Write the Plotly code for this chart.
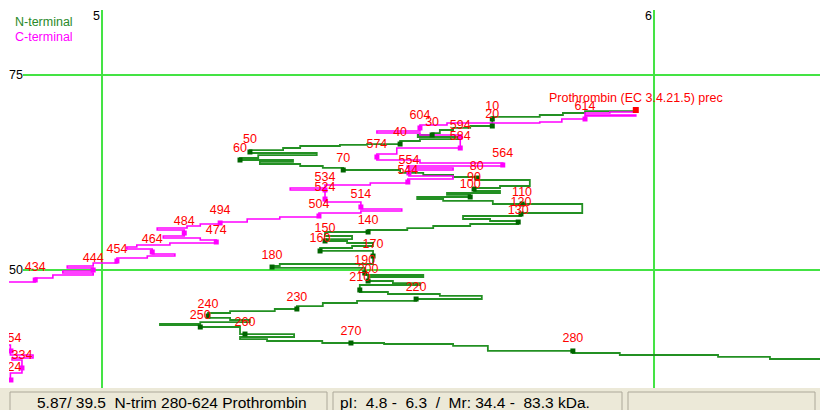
import plotly.graph_objects as go

# ---------------- data (pI, Mr in kDa) ----------------
# N-terminal trimming path (step path, each point = spot after a trimming step)
n_pi = [5.967, 5.875, 5.835, 5.793, 5.707, 5.667, 5.636, 5.612, 5.598, 5.572, 5.649, 5.576, 5.540, 5.480,
        5.431, 5.359, 5.328, 5.268, 5.389, 5.283, 5.250, 5.346, 5.286, 5.359, 5.400, 5.437, 5.540, 5.582,
        5.636, 5.679, 5.775, 5.721, 5.674, 5.721, 5.625, 5.667, 5.571, 5.618, 5.708, 5.870, 5.759, 5.654,
        5.703, 5.754, 5.667, 5.600, 5.553, 5.482, 5.404, 5.453, 5.404, 5.444, 5.491, 5.453, 5.395, 5.491,
        5.322, 5.308, 5.476, 5.582, 5.482, 5.527, 5.576, 5.467, 5.518, 5.612, 5.688, 5.569, 5.462, 5.400,
        5.353, 5.313, 5.232, 5.192, 5.232, 5.268, 5.178, 5.105, 5.178, 5.250, 5.348, 5.250, 5.299, 5.399,
        5.511, 5.636, 5.699, 5.853, 5.938, 6.116, 6.210, 6.320]
n_mr = [70.38, 70.13, 69.87, 69.62, 68.46, 68.21, 67.95, 67.56, 67.31, 67.05, 66.79, 66.54, 66.15, 66.03,
        65.90, 65.64, 65.38, 65.00, 64.74, 64.36, 64.10, 63.85, 63.59, 63.33, 63.08, 62.82, 62.44, 62.18,
        61.92, 61.54, 60.77, 60.51, 60.13, 59.87, 59.62, 59.36, 59.10, 58.85, 58.46, 57.31, 56.92, 56.54,
        56.28, 55.90, 55.64, 55.38, 55.13, 54.87, 54.36, 53.97, 53.72, 53.46, 53.08, 52.82, 52.44, 50.77,
        50.51, 50.26, 49.36, 49.10, 48.59, 48.33, 48.08, 47.18, 46.92, 46.67, 46.28, 46.03, 45.77, 45.38,
        45.00, 44.74, 44.49, 43.85, 43.59, 43.33, 43.08, 42.95, 42.69, 41.79, 41.41, 41.15, 40.90, 40.64,
        40.51, 40.26, 39.62, 39.36, 39.10, 38.85, 38.59, 38.59]

n_lab = [10, 20, 30, 40, 50, 60, 70, 80, 90, 100, 110, 120, 130, 140, 150, 160, 170, 180, 190, 200,
         210, 220, 230, 240, 250, 260, 270, 280]
n_lab_pi = [5.707, 5.707, 5.598, 5.540, 5.268, 5.250, 5.437, 5.679, 5.674, 5.667, 5.761, 5.759, 5.754,
            5.482, 5.404, 5.395, 5.491, 5.308, 5.476, 5.482, 5.467, 5.569, 5.353, 5.192, 5.178, 5.259,
            5.451, 5.853]
n_lab_mr = [69.36, 68.46, 67.31, 66.15, 65.13, 64.10, 62.82, 61.79, 60.38, 59.36, 58.46, 57.18, 56.15,
            54.87, 53.72, 52.44, 51.79, 50.38, 49.62, 48.59, 47.44, 46.28, 45.00, 44.10, 42.69, 41.79,
            40.64, 39.62]

# C-terminal trimming path
c_pi = [5.967, 5.920, 5.875, 5.967, 5.875, 5.833, 5.793, 5.625, 5.576, 5.498, 5.576, 5.649, 5.534, 5.498,
        5.576, 5.726, 5.553, 5.636, 5.556, 5.636, 5.554, 5.486, 5.404, 5.341, 5.404, 5.469, 5.543, 5.469,
        5.393, 5.322, 5.263, 5.214, 5.178, 5.154, 5.100, 5.149, 5.111, 5.178, 5.207, 5.123, 5.063, 5.045,
        5.091, 5.132, 5.082, 5.027, 4.984, 4.937, 4.984, 4.929, 4.984, 4.911, 4.879, 4.750, 4.834, 4.875,
        4.837, 4.855, 4.834, 4.750]
c_mr = [70.26, 70.13, 69.87, 69.74, 69.36, 68.97, 68.85, 68.59, 67.82, 67.56, 67.31, 65.64, 64.87, 64.10,
        63.72, 63.33, 63.08, 62.82, 62.05, 61.67, 61.15, 60.90, 60.51, 60.26, 58.72, 57.82, 57.56, 57.31,
        56.79, 56.54, 56.15, 55.90, 55.64, 55.38, 55.13, 54.36, 54.10, 53.85, 53.46, 53.21, 52.95, 52.69,
        52.05, 51.79, 51.54, 50.90, 50.51, 50.26, 49.87, 49.62, 49.36, 48.97, 48.46, 40.38, 39.10, 38.72,
        38.46, 36.79, 35.77, 35.77]

c_lab = [614, 604, 594, 584, 574, 564, 554, 544, 534, 524, 514, 504, 494, 484, 474, 464, 454, 444, 434,
         354, 334, 324]
c_lab_pi = [5.875, 5.576, 5.649, 5.649, 5.498, 5.726, 5.556, 5.554, 5.404, 5.404, 5.469, 5.393, 5.214,
            5.149, 5.207, 5.091, 5.027, 4.984, 4.879, 4.835, 4.855, 4.835]
c_lab_mr = [69.36, 68.21, 67.05, 65.64, 64.49, 63.46, 62.44, 61.28, 60.26, 59.10, 58.08, 56.92, 56.03,
            54.74, 53.59, 52.31, 51.15, 50.00, 48.72, 39.62, 37.44, 35.90]

# full-length protein spot
full_pi = [5.967]
full_mr = [70.51]
full_name = ["Prothrombin (EC 3.4.21.5) prec"]

# axis marks (grid lines)
grid_pi = [5, 6]
grid_mr = [75, 50]

legend_items = ["N-terminal", "C-terminal"]
status_texts = ["5.87/ 39.5  N-trim 280-624 Prothrombin",
                "pI:  4.8 -  6.3  /  Mr: 34.4 -  83.3 kDa.",
                ""]

# ---------------- style ----------------
W, H = 820, 410
ML, MB = 9, 22
PW, PH = W - ML, H - MB
X_RANGE = [4.8315, 6.3007]
Y_RANGE = [34.872, 84.615]
GREEN = "#239023"
GREEN_DARK = "#006400"
MAGENTA = "#ff00ff"
RED = "#ff0000"
GRID = "#44e344"
FONT = "Arial, Liberation Sans, sans-serif"


def px(xp):
    return (xp - ML) / PW


def py(yp):
    return (PH - yp) / PH


fig = go.Figure()

fig.add_trace(go.Scatter(x=n_pi, y=n_mr, mode="lines",
                         line=dict(color=GREEN, width=1.8, shape="hv")))
fig.add_trace(go.Scatter(x=c_pi, y=c_mr, mode="lines",
                         line=dict(color=MAGENTA, width=1.6, shape="hv")))

fig.add_trace(go.Scatter(x=n_lab_pi, y=n_lab_mr, mode="markers",
                         marker=dict(symbol="square", size=5, color=GREEN_DARK)))
fig.add_trace(go.Scatter(x=c_lab_pi, y=c_lab_mr, mode="markers",
                         marker=dict(symbol="square", size=5, color=MAGENTA)))
fig.add_trace(go.Scatter(x=full_pi, y=full_mr, mode="markers",
                         marker=dict(symbol="square", size=6, color=RED)))

for xs, ys, labs in [(n_lab_pi, n_lab_mr, [str(v) for v in n_lab]),
                     (c_lab_pi, c_lab_mr, [str(v) for v in c_lab]),
                     (full_pi, full_mr, full_name)]:
    fig.add_trace(go.Scatter(x=xs, y=ys, mode="markers+text", text=labs,
                             textposition="top center", cliponaxis=True,
                             marker=dict(size=7, color="rgba(0,0,0,0)"),
                             textfont=dict(color=RED, size=12.5, family=FONT)))

shapes = []
annotations = []
for v in grid_pi:
    shapes.append(dict(type="line", xref="x", yref="paper", x0=v, x1=v, y0=-0.01, y1=py(10),
                       line=dict(color=GRID, width=2), layer="below"))
    annotations.append(dict(xref="x", yref="paper", x=v, y=py(16), text=str(v), showarrow=False,
                            xanchor="right", yanchor="middle",
                            font=dict(color="black", size=12.5, family=FONT)))
for v in grid_mr:
    shapes.append(dict(type="line", xref="paper", yref="y", x0=px(23), x1=1, y0=v, y1=v,
                       line=dict(color=GRID, width=2), layer="below"))
    annotations.append(dict(xref="paper", yref="y", x=px(25), y=v, text=str(v), showarrow=False,
                            xanchor="right", yanchor="middle",
                            font=dict(color="black", size=12.5, family=FONT)))

for txt, col, yp in zip(legend_items, ["#2a8a2a", MAGENTA], [22, 37]):
    annotations.append(dict(xref="paper", yref="paper", x=px(13), y=py(yp), text=txt,
                            showarrow=False, xanchor="left", yanchor="middle",
                            font=dict(color=col, size=12.5, family=FONT)))

# status bar
shapes.append(dict(type="rect", xref="paper", yref="paper", x0=px(-2), x1=px(822), y0=py(388),
                   y1=py(412), fillcolor="#ece9d8", line=dict(width=0), layer="above"))
panels = [(10, 327), (333, 622), (628, 815)]
for (a, b), txt in zip(panels, status_texts):
    shapes.append(dict(type="rect", xref="paper", yref="paper", x0=px(a), x1=px(b), y0=py(392),
                       y1=py(412), fillcolor="#ece9d8", line=dict(color="#aca899", width=1),
                       layer="above"))
    if txt:
        annotations.append(dict(xref="paper", yref="paper", x=px(a + 25 if a < 100 else a + 5),
                                y=py(402), text=txt, showarrow=False, xanchor="left",
                                yanchor="middle", font=dict(color="black", size=15.5, family=FONT)))

fig.update_layout(
    width=W, height=H,
    margin=dict(l=ML, r=0, t=0, b=MB, pad=0),
    paper_bgcolor="white", plot_bgcolor="white",
    showlegend=False, hovermode=False,
    xaxis=dict(range=X_RANGE, visible=False, fixedrange=True),
    yaxis=dict(range=Y_RANGE, visible=False, fixedrange=True),
    shapes=shapes, annotations=annotations,
)

fig.write_html("out.html", config={"displayModeBar": False},
               post_script="document.body.style.margin='0';document.body.style.overflow='hidden';")
